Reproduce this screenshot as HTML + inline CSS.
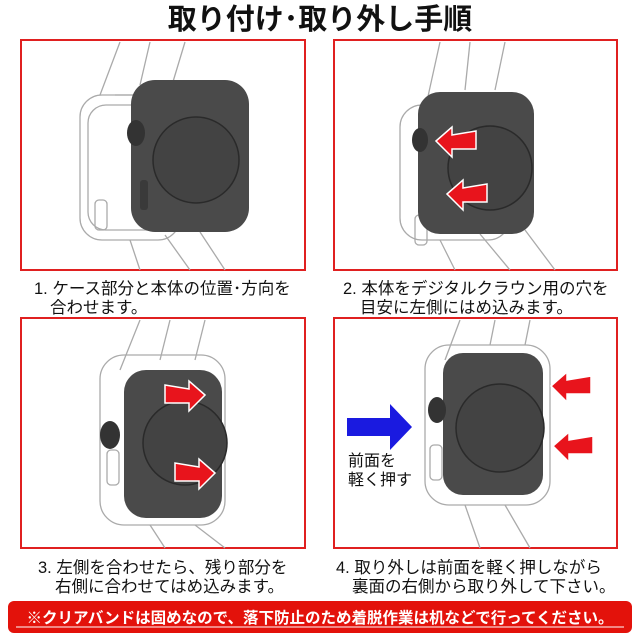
<!DOCTYPE html>
<html><head><meta charset="utf-8"><style>
body{margin:0;width:640px;height:640px;background:#fff;overflow:hidden;font-family:"Liberation Sans","Noto Sans CJK JP",sans-serif}
svg{position:absolute;left:0;top:0}
</style></head><body>
<svg width="640" height="640" viewBox="0 0 640 640" font-family="Liberation Sans, Noto Sans CJK JP, sans-serif">
<defs>
<g id="arL"><polygon points="0,0 16,-14 16,-6 40,-10 40,8 16,8 16,16" fill="#e8141c" stroke="#fff" stroke-width="1.5"/></g>
<g id="arR"><polygon points="0,0 -16,-14 -16,-6 -40,-10 -40,8 -16,8 -16,16" fill="#e8141c" stroke="#fff" stroke-width="1.5"/></g>
</defs>
<text x="320" y="29" text-anchor="middle" font-size="29" font-weight="bold" fill="#111">取り付け･取り外し手順</text>

<rect x="21" y="40" width="284" height="230" fill="none" stroke="#e02020" stroke-width="2"/>
<rect x="334" y="40" width="283" height="230" fill="none" stroke="#e02020" stroke-width="2"/>
<rect x="21" y="318" width="284" height="230" fill="none" stroke="#e02020" stroke-width="2"/>
<rect x="334" y="318" width="283" height="230" fill="none" stroke="#e02020" stroke-width="2"/>

<!-- panel 1 -->
<g stroke="#aaa" fill="none" stroke-width="1.3">
<path d="M120,42 L100,95 M150,42 L140,85 M185,42 L172,85 M115,95 L190,95"/>
<rect x="80" y="95" width="100" height="145" rx="22"/>
<rect x="88" y="105" width="84" height="125" rx="18"/>
<path d="M130,240 L140,270 M165,235 L190,270 M200,232 L225,270"/>
<rect x="95" y="200" width="12" height="30" rx="4"/>
</g>
<rect x="131" y="80" width="118" height="152" rx="24" fill="#4a4a4a"/>
<circle cx="196" cy="160" r="43" fill="#434343" stroke="#2a2a2a" stroke-width="1.5"/>
<ellipse cx="136" cy="133" rx="9" ry="13" fill="#333"/>
<rect x="140" y="180" width="8" height="30" rx="3" fill="#3a3a3a"/>

<!-- panel 2 -->
<g stroke="#aaa" fill="none" stroke-width="1.3">
<path d="M440,42 L425,110 M470,42 L465,90 M505,42 L495,90"/>
<rect x="400" y="105" width="110" height="135" rx="22"/>
<path d="M440,240 L455,270 M480,234 L510,270 M525,230 L555,270"/>
<rect x="415" y="215" width="12" height="30" rx="4"/>
</g>
<rect x="418" y="92" width="116" height="142" rx="22" fill="#4a4a4a"/>
<circle cx="490" cy="168" r="42" fill="#434343" stroke="#2a2a2a" stroke-width="1.5"/>
<ellipse cx="420" cy="140" rx="8" ry="12" fill="#333"/>
<use href="#arL" x="436" y="141"/>
<use href="#arL" x="447" y="194"/>

<text x="34" y="294" font-size="16.5" fill="#111">1. ケース部分と本体の位置･方向を</text>
<text x="50" y="313" font-size="16.5" fill="#111">合わせます。</text>
<text x="343" y="294" font-size="16.5" fill="#111">2. 本体をデジタルクラウン用の穴を</text>
<text x="360" y="313" font-size="16.5" fill="#111">目安に左側にはめ込みます。</text>

<!-- panel 3 -->
<g stroke="#aaa" fill="none" stroke-width="1.3">
<path d="M140,320 L120,370 M170,320 L160,360 M205,320 L195,360"/>
<rect x="100" y="355" width="125" height="170" rx="24"/>
<path d="M150,525 L165,548 M195,525 L225,548"/>
<rect x="107" y="450" width="12" height="35" rx="4"/>
</g>
<rect x="124" y="370" width="98" height="148" rx="22" fill="#4a4a4a"/>
<circle cx="185" cy="443" r="42" fill="#434343" stroke="#2a2a2a" stroke-width="1.5"/>
<ellipse cx="110" cy="435" rx="10" ry="14" fill="#333"/>
<use href="#arR" x="205" y="395"/>
<use href="#arR" x="215" y="473"/>

<!-- panel 4 -->
<g stroke="#aaa" fill="none" stroke-width="1.3">
<path d="M460,320 L445,360 M495,320 L490,345 M530,320 L525,345"/>
<rect x="425" y="345" width="125" height="160" rx="24"/>
<path d="M465,505 L480,548 M505,505 L530,548"/>
<rect x="430" y="445" width="12" height="35" rx="4"/>
</g>
<rect x="443" y="353" width="100" height="142" rx="20" fill="#4a4a4a"/>
<circle cx="500" cy="428" r="44" fill="#434343" stroke="#2a2a2a" stroke-width="1.5"/>
<ellipse cx="437" cy="410" rx="9" ry="13" fill="#333"/>
<polygon points="347,418 390,418 390,404 412,427 390,450 390,436 347,436" fill="#1a1ae0"/>
<text x="348" y="466" font-size="16" fill="#111">前面を</text>
<text x="348" y="485" font-size="16" fill="#111">軽く押す</text>
<use href="#arL" x="551" y="386"/>
<use href="#arL" x="553" y="446"/>

<text x="38" y="573" font-size="16.5" fill="#111">3. 左側を合わせたら、残り部分を</text>
<text x="55" y="592" font-size="16.5" fill="#111">右側に合わせてはめ込みます。</text>
<text x="336" y="573" font-size="16.5" fill="#111">4. 取り外しは前面を軽く押しながら</text>
<text x="352" y="592" font-size="16.5" fill="#111">裏面の右側から取り外して下さい。</text>

<rect x="8" y="601" width="624" height="32" rx="6" fill="#e3120b"/>
<text x="320" y="623" text-anchor="middle" font-size="15.5" font-weight="bold" fill="#fff">※クリアバンドは固めなので、落下防止のため着脱作業は机などで行ってください。</text>
<line x1="16" y1="627" x2="624" y2="627" stroke="#fff" stroke-width="1"/>
</svg>
</body></html>
